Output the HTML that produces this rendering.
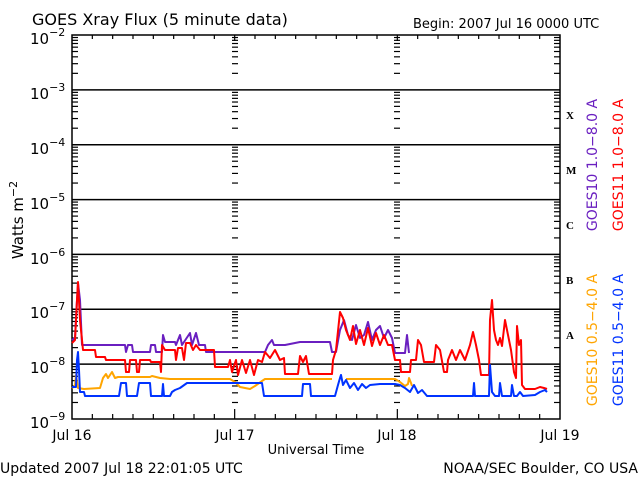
<!DOCTYPE html>
<html><head><style>
html,body{margin:0;padding:0;background:#fff;}
svg{display:block;font-family:"DejaVu Sans","Liberation Sans",sans-serif;}
</style></head><body>
<svg id="s" width="640" height="480" xmlns="http://www.w3.org/2000/svg">
<rect width="640" height="480" fill="#fff"/>
<text x="32" y="25" font-size="16">GOES Xray Flux (5 minute data)</text>
<text x="413" y="28" font-size="13">Begin:  2007 Jul 16 0000 UTC</text>
<g id="ax" stroke="#000" stroke-width="1.5" fill="none"></g>
<g font-size="15">
<text x="30" y="44">10<tspan font-size="11" dy="-8">−2</tspan></text>
<text x="30" y="99">10<tspan font-size="11" dy="-8">−3</tspan></text>
<text x="30" y="154">10<tspan font-size="11" dy="-8">−4</tspan></text>
<text x="30" y="209">10<tspan font-size="11" dy="-8">−5</tspan></text>
<text x="30" y="264">10<tspan font-size="11" dy="-8">−6</tspan></text>
<text x="30" y="318">10<tspan font-size="11" dy="-8">−7</tspan></text>
<text x="30" y="373">10<tspan font-size="11" dy="-8">−8</tspan></text>
<text x="30" y="428">10<tspan font-size="11" dy="-8">−9</tspan></text>
</g>
<text transform="translate(23,220) rotate(-90)" font-size="15" text-anchor="middle">Watts m<tspan font-size="11" dy="-6">−2</tspan></text>
<g font-family="Liberation Serif,serif" font-weight="bold" font-size="11">
<text x="566" y="119">X</text><text x="566" y="174">M</text><text x="566" y="229">C</text><text x="566" y="284">B</text><text x="566" y="339">A</text>
</g>
<g font-size="14" text-anchor="middle">
<text x="72" y="440">Jul 16</text><text x="235" y="440">Jul 17</text><text x="397" y="440">Jul 18</text><text x="560" y="440">Jul 19</text>
<text x="316" y="454" font-size="13">Universal Time</text>
</g>
<text x="0" y="473" font-size="14">Updated 2007 Jul 18 22:01:05 UTC</text>
<text x="638" y="473" font-size="14" text-anchor="end">NOAA/SEC Boulder, CO USA</text>
<g font-size="14" text-anchor="middle">
<text transform="translate(597,165) rotate(-90)" fill="#6a1fc0">GOES10 1.0−8.0 A</text>
<text transform="translate(623,165) rotate(-90)" fill="#ff0000">GOES11 1.0−8.0 A</text>
<text transform="translate(597,340) rotate(-90)" fill="#ffa500">GOES10 0.5−4.0 A</text>
<text transform="translate(623,340) rotate(-90)" fill="#0033ff">GOES11 0.5−4.0 A</text>
</g>
<g fill="none" stroke-width="2" stroke-linejoin="round">
<polyline stroke="#ffa500" points="72,388 75,386 76,375 78,388 84,389 100,388 103,378 106,374 108,378 112,372 115,378 118,377 150,377 152,376 160,378 170,379 230,379 235,382 240,387 250,389 255,386 262,381 265,379 332,379"/>
<polyline stroke="#ffa500" points="346,379 395,379 400,382 405,386 408,384 409,378 411,383 412,386"/>
<polyline stroke="#6a1fc0" points="72,340 75,338 77,300 78,283 80,300 82,345 125,345 126,352 128,345 132,345 133,352 150,352 151,345 155,345 156,352 162,352 163,335 165,342 175,342 176,345 180,335 182,345 190,333 192,345 196,333 199,345 205,345 206,352 235,352 265,352 268,345 272,340 274,345 285,345 300,342 330,342 332,352 336,352 340,330 344,320 348,335 352,340 356,325 360,338 364,335 368,322 372,340 376,330 380,326 384,338 388,330 392,338 395,353 405,353 407,335 409,353"/>
<polyline stroke="#ff0000" points="72,343 75,340 77,300 78,282 80,320 82,340 83,350 95,350 96,357 105,357 106,360 125,360 126,372 129,372 130,360 136,360 137,372 139,372 140,360 150,360 151,362 160,362 161,372 162,345 165,350 175,350 176,360 178,348 182,348 184,360 186,343 190,343 193,350 196,345 200,350 214,350 215,367 228,367 230,360 232,372 236,360 238,375 242,360 246,373 250,360 254,375 258,360 262,362 265,352 270,358 275,350 280,360 284,358 285,374 298,374 300,356 303,362 306,356 309,374 332,374 333,360 336,350 340,312 343,318 346,330 350,340 353,326 356,344 360,330 364,345 368,328 372,346 376,333 380,345 384,335 388,345 392,345 395,360 400,360 401,372 410,372 411,360 416,360 418,340 421,345 424,362 434,362 436,345 440,350 444,372 447,372 448,360 452,350 456,360 460,350 465,360 470,345 473,332 476,345 479,360 481,375 489,375 490,320 492,300 494,330 496,340 498,345 500,338 502,346 505,320 508,335 511,350 514,372 516,378 517,326 519,345 521,340 522,385 525,389 535,389 540,387 544,388 547,389"/>
<polyline stroke="#0033ff" points="72,387 76,387 77,360 78,352 79,370 80,392 84,392 85,396 119,396 121,383 126,383 127,396 137,396 139,383 150,383 151,396 162,396 163,384 164,396 170,396 172,392 175,390 180,388 187,383 262,383 264,396 302,396 303,384 310,384 311,396 335,396 338,385 340,378 341,375 343,385 346,380 350,388 354,383 358,390 362,384 366,388 370,385 380,384 395,384 400,385 405,388 410,392 414,385 418,393 422,390 427,396 473,396 474,383 475,396 489,396 490,365 492,392 495,396 499,396 500,383 502,396 511,396 512,385 514,396 517,396 520,392 523,396 535,395 540,392 545,390 547,392"/>
</g>
</svg>
<script>
(function(){
var g=document.getElementById('ax'),L=72,R=560,T=35,B=419,D=(B-T)/7,s='';
function ln(a,b,c,d,w){s+='<line x1="'+a+'" y1="'+b+'" x2="'+c+'" y2="'+d+'"'+(w?' stroke-width="'+w+'"':'')+'/>';}
s+='<rect x="'+L+'" y="'+T+'" width="'+(R-L)+'" height="'+(B-T)+'"/>';
for(var k=1;k<7;k++){var y=T+k*D;ln(L,y,R,y);}
for(var k=0;k<7;k++){for(var m=2;m<10;m++){var y=T+(k+1)*D-Math.log10(m)*D;
 ln(L,y,L+6,y,1.2);ln(R-6,y,R,y,1.2);ln(235-3,y,235+3,y,1.2);ln(397-3,y,397+3,y,1.2);}}
var dw=(R-L)/3;
for(var i=1;i<24;i++){var x=L+i*dw/8;var big=(i%8==0);ln(x,T,x,T+(big?6:4),1.2);ln(x,B,x,B-(big?10:5),1.2);}
g.innerHTML=s;
})();
</script>
</body></html>
